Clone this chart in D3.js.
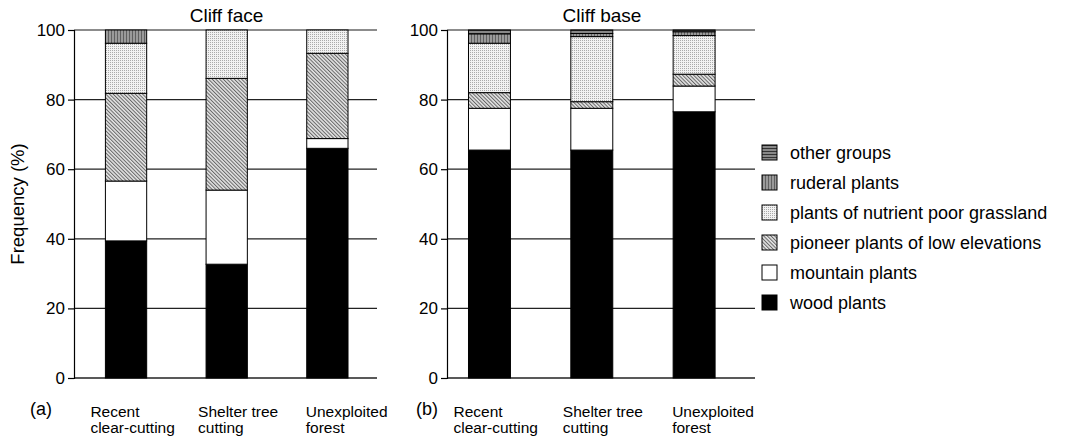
<!DOCTYPE html>
<html>
<head>
<meta charset="utf-8">
<script src="https://cdn.jsdelivr.net/npm/d3@7"></script>
<style>
  body { margin: 0; background: #fff; }
  text { font-family: "Liberation Sans", Arial, sans-serif; fill: #000; }
</style>
</head>
<body>
<div id="chart"></div>
<script>
// categories (x axis), two label lines each
var categories = ["Recent clear-cutting", "Shelter tree cutting", "Unexploited forest"];
var categoryLines = [["Recent", "clear-cutting"], ["Shelter tree", "cutting"], ["Unexploited", "forest"]];

// stack order, bottom to top
var groups = ["wood plants", "mountain plants", "pioneer plants of low elevations",
              "plants of nutrient poor grassland", "ruderal plants", "other groups"];

// (a) Cliff face, % per group for each category
var faceWood     = [39.4, 32.7, 66.0];
var faceMountain = [17.2, 21.3, 2.8];
var facePioneer  = [25.2, 32.1, 24.5];
var faceNutrient = [14.4, 13.9, 6.7];
var faceRuderal  = [3.8, 0, 0];
var faceOther    = [0, 0, 0];

// (b) Cliff base
var baseWood     = [65.5, 65.5, 76.5];
var baseMountain = [12.0, 12.0, 7.4];
var basePioneer  = [4.5, 1.9, 3.4];
var baseNutrient = [14.2, 18.7, 11.1];
var baseRuderal  = [2.7, 0.9, 1.1];
var baseOther    = [1.1, 1.0, 0.5];

var yTicks = [0, 20, 40, 60, 80, 100];

var W = 1086, H = 439;
var plotTop = 30, plotBottom = 378;

var svg = d3.select("#chart").append("svg")
    .attr("width", W)
    .attr("height", H);

svg.append("rect").attr("width", W).attr("height", H).attr("fill", "#fff");

// fill patterns
var defs = svg.append("defs");

var pat = defs.append("pattern").attr("id", "pioneer")
    .attr("patternUnits", "userSpaceOnUse").attr("width", 2.6).attr("height", 2.6)
    .attr("patternTransform", "rotate(-45)");
pat.append("rect").attr("width", 2.6).attr("height", 2.6).attr("fill", "#e4e4e4");
pat.append("line").attr("x1", 0.5).attr("y1", 0).attr("x2", 0.5).attr("y2", 2.6)
    .attr("stroke", "#666").attr("stroke-width", 1);

pat = defs.append("pattern").attr("id", "nutrient")
    .attr("patternUnits", "userSpaceOnUse").attr("width", 2).attr("height", 2);
pat.append("rect").attr("width", 2).attr("height", 2).attr("fill", "#f2f2f2");
pat.append("rect").attr("width", 1).attr("height", 1).attr("fill", "#aaa");

pat = defs.append("pattern").attr("id", "ruderal")
    .attr("patternUnits", "userSpaceOnUse").attr("width", 3).attr("height", 3);
pat.append("rect").attr("width", 3).attr("height", 3).attr("fill", "#9a9a9a");
pat.append("rect").attr("width", 1).attr("height", 3).attr("fill", "#606060");

pat = defs.append("pattern").attr("id", "other")
    .attr("patternUnits", "userSpaceOnUse").attr("width", 3).attr("height", 3);
pat.append("rect").attr("width", 3).attr("height", 3).attr("fill", "#888");
pat.append("rect").attr("width", 3).attr("height", 1).attr("fill", "#333");

var fills = ["#000", "#fff", "url(#pioneer)", "url(#nutrient)", "url(#ruderal)", "url(#other)"];

var color = d3.scaleOrdinal().domain(groups).range(fills);

var y = d3.scaleLinear().domain([0, 100]).range([plotBottom, plotTop]);

function toRows(cols) {
    return categories.map(function(c, i) {
        var row = {category: c};
        groups.forEach(function(g, j) { row[g] = cols[j][i]; });
        return row;
    });
}

var panels = [
    {title: "Cliff face", tag: "(a)", tagX: 30, x0: 74, x1: 377, align: 0.52,
     rows: toRows([faceWood, faceMountain, facePioneer, faceNutrient, faceRuderal, faceOther])},
    {title: "Cliff base", tag: "(b)", tagX: 416, x0: 447, x1: 755, align: 0.35,
     rows: toRows([baseWood, baseMountain, basePioneer, baseNutrient, baseRuderal, baseOther])}
];

var stack = d3.stack().keys(groups);

panels.forEach(function(p) {
    var x = d3.scaleBand().domain(categories)
        .range([p.x0, p.x1])
        .paddingInner(0.59).paddingOuter(0.3).align(p.align);

    var g = svg.append("g");

    // gridlines
    g.selectAll(".grid").data(yTicks).enter().append("line")
        .attr("x1", p.x0).attr("x2", p.x1)
        .attr("y1", function(d) { return y(d); })
        .attr("y2", function(d) { return y(d); })
        .attr("stroke", function(d) { return d == 100 ? "#666" : "#222"; })
        .attr("stroke-width", 1.3);

    // y axis
    var ax = g.append("g")
        .attr("transform", "translate(" + p.x0 + ",0)")
        .call(d3.axisLeft(y).tickValues(yTicks).tickSize(6).tickPadding(3));
    ax.select(".domain").attr("stroke", "#000").attr("stroke-width", 1.2);
    ax.selectAll(".tick line").attr("stroke", "#000").attr("stroke-width", 1.2);
    ax.selectAll(".tick text")
        .style("font-family", "'Liberation Sans', Arial, sans-serif")
        .style("font-size", "17px").attr("fill", "#000");

    // stacked bars
    var series = stack(p.rows);
    g.selectAll(".layer").data(series).enter().append("g")
        .attr("fill", function(d) { return color(d.key); })
        .selectAll("rect").data(function(d) { return d; }).enter().append("rect")
        .attr("x", function(d) { return x(d.data.category); })
        .attr("width", x.bandwidth())
        .attr("y", function(d) { return y(d[1]); })
        .attr("height", function(d) { return y(d[0]) - y(d[1]); })
        .attr("stroke", "#000")
        .attr("stroke-width", function(d) { return d[1] - d[0] > 0 ? 1 : 0; });

    // title
    g.append("text")
        .attr("x", (p.x0 + p.x1) / 2 + 1)
        .attr("y", 22)
        .attr("text-anchor", "middle")
        .style("font-size", "19px")
        .text(p.title);

    // category labels
    categories.forEach(function(c, i) {
        var lx = x(c) - (2 - i) * 7 - 1;
        var t = g.append("text")
            .attr("y", 417)
            .style("font-size", "15.5px");
        categoryLines[i].forEach(function(line, k) {
            t.append("tspan").attr("x", lx).attr("dy", k ? 16 : 0).text(line);
        });
    });

    // panel tag
    g.append("text")
        .attr("x", p.tagX)
        .attr("y", 415)
        .style("font-size", "18px")
        .text(p.tag);
});

// y label
svg.append("text")
    .attr("transform", "translate(24," + ((plotTop + plotBottom) / 2) + ") rotate(-90)")
    .attr("text-anchor", "middle")
    .style("font-size", "18.5px")
    .text("Frequency (%)");

// legend, top row is last group
var legendOrder = groups.slice().reverse();
var legend = svg.append("g").attr("transform", "translate(762,145)");
legendOrder.forEach(function(name, i) {
    var row = legend.append("g").attr("transform", "translate(0," + (i * 30) + ")");
    row.append("rect")
        .attr("width", 15).attr("height", 15)
        .attr("fill", color(name))
        .attr("stroke", "#000").attr("stroke-width", 1);
    row.append("text")
        .attr("x", 28).attr("y", 14)
        .style("font-size", "18px")
        .text(name);
});
</script>
</body>
</html>
